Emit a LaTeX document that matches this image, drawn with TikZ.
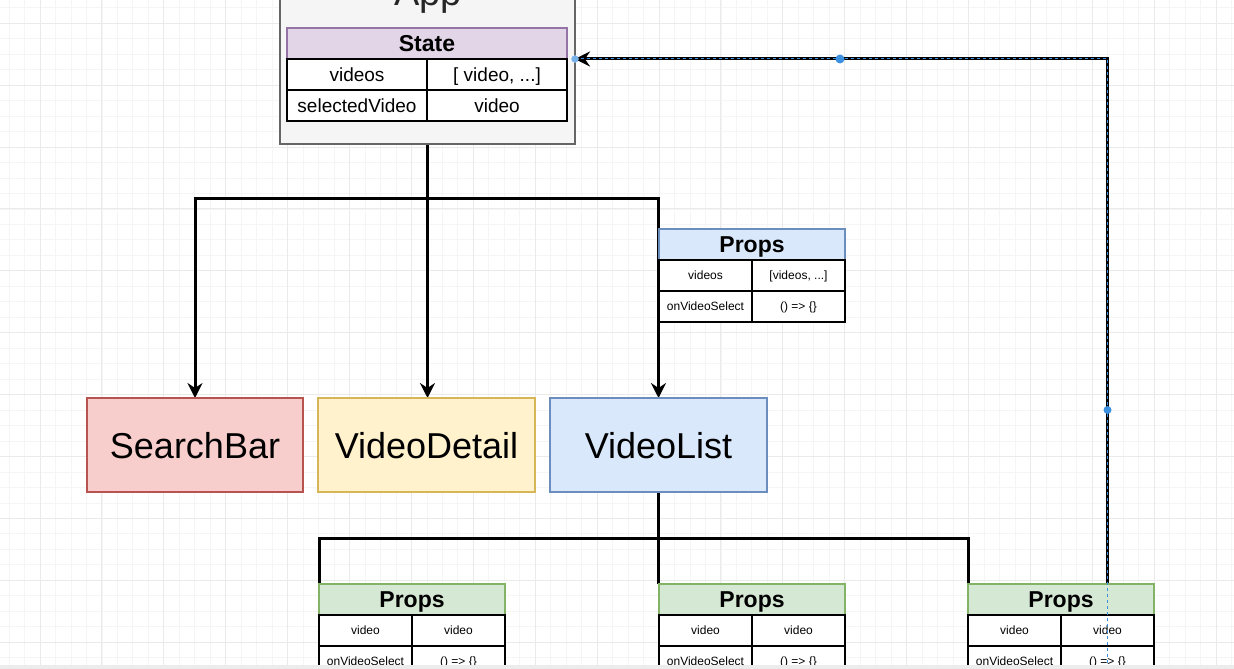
\documentclass[tikz,border=0pt]{standalone}
\usepackage{fontspec}
\setmainfont{Liberation Sans}
\usetikzlibrary{arrows.meta}
\pgfdeclarelayer{bglayer}
\pgfdeclarelayer{gridlayer}
\pgfdeclarelayer{edgelayer}
\pgfdeclarelayer{toplayer}
\pgfsetlayers{bglayer,gridlayer,edgelayer,main,toplayer}
\definecolor{gminor}{HTML}{F5F5F5}
\definecolor{gmajor}{HTML}{EAEAEA}
\definecolor{appfill}{HTML}{F5F5F5}
\definecolor{appdraw}{HTML}{666666}
\definecolor{purfill}{HTML}{E1D5E7}
\definecolor{purdraw}{HTML}{9673A6}
\definecolor{bluefill}{HTML}{DAE8FC}
\definecolor{bluedraw}{HTML}{6C8EBF}
\definecolor{redfill}{HTML}{F8CECC}
\definecolor{reddraw}{HTML}{B85450}
\definecolor{yelfill}{HTML}{FFF2CC}
\definecolor{yeldraw}{HTML}{D6B656}
\definecolor{grnfill}{HTML}{D5E8D4}
\definecolor{grndraw}{HTML}{82B366}
\definecolor{selblue}{HTML}{3D8FE0}
\definecolor{strip}{HTML}{ECECEC}
\begin{document}
\begin{tikzpicture}[x=1pt,y=-1pt,
  gridminorline/.style={draw=gminor,line width=0.8pt},
  gridmajorline/.style={draw=gmajor,line width=1pt},
  box/.style={anchor=north west,inner sep=0pt,outer sep=0pt,line width=2.6pt},
  bigbox/.style={box,minimum width=216pt,minimum height=94pt,font=\fontsize{36}{40}\selectfont,text height=26pt,text depth=0pt},
  hdr/.style={box,minimum height=31pt,font=\bfseries\fontsize{23}{26}\selectfont,text height=17pt,text depth=1pt},
  cellbig/.style={box,draw=black,fill=white,minimum width=140pt,minimum height=31pt,font=\fontsize{19}{22}\selectfont,text height=16pt,text depth=2pt},
  cellsmall/.style={box,draw=black,fill=white,minimum width=93pt,minimum height=31pt,font=\fontsize{12}{14}\selectfont,text height=10pt,text depth=2pt},
  conn/.style={draw=black,line width=3pt},
  tip/.style={-{Stealth[length=15pt,width=15pt,inset=5pt]}},
  sel/.style={draw=selblue,line width=1pt,dash pattern=on 3pt off 3pt},
  handle/.style={circle,fill=selblue,inner sep=0pt,minimum size=8pt}
]
\useasboundingbox (0,0) rectangle (1234,669);
\begin{pgfonlayer}{bglayer}
\fill[white] (0,0) rectangle (1234,669);
\end{pgfonlayer}
% grid
\begin{pgfonlayer}{gridlayer}
\foreach \i in {0,...,80} {
  \pgfmathsetmacro\xx{-6.4+15.475*\i}
  \draw[gridminorline] (\xx,0) -- (\xx,669);
}
\foreach \i in {0,...,44} {
  \pgfmathsetmacro\yy{-7.75+15.475*\i}
  \draw[gridminorline] (0,\yy) -- (1234,\yy);
}
\foreach \i in {0,...,20} {
  \pgfmathsetmacro\xx{40+61.9*\i}
  \draw[gridmajorline] (\xx,0) -- (\xx,669);
}
\foreach \i in {0,...,10} {
  \pgfmathsetmacro\yy{23.2+61.9*\i}
  \draw[gridmajorline] (0,\yy) -- (1234,\yy);
}
\end{pgfonlayer}

% App container
\node[box,draw=appdraw,fill=appfill,minimum width=295pt,minimum height=164pt] (app) at (280,-20) {};
\node[anchor=base,font=\fontsize{38}{40}\selectfont,text=black!85] (apptitle) at (428,6) {App};
\node[hdr,draw=purdraw,fill=purfill,minimum width=280pt] (state) at (287,28) {State};
\node[cellbig] (s11) at (287,59) {videos};
\node[cellbig] (s12) at (427,59) {[ video, ...]};
\node[cellbig] (s21) at (287,90) {selectedVideo};
\node[cellbig] (s22) at (427,90) {video};

% props of VideoList
\node[hdr,draw=bluedraw,fill=bluefill,minimum width=186pt] (pv) at (659,229) {Props};
\node[cellsmall] (pv11) at (659,260) {videos};
\node[cellsmall] (pv12) at (752,260) {[videos, ...]};
\node[cellsmall] (pv21) at (659,291) {onVideoSelect};
\node[cellsmall] (pv22) at (752,291) {() => \{\}};

% main components
\node[bigbox,draw=reddraw,fill=redfill] (sb) at (87,398) {SearchBar};
\node[bigbox,draw=yeldraw,fill=yelfill,minimum width=217pt] (vd) at (318,398) {VideoDetail};
\node[bigbox,draw=bluedraw,fill=bluefill,minimum width=217pt] (vl) at (550,398) {VideoList};

% VideoItem props
\node[hdr,draw=grndraw,fill=grnfill,minimum width=186pt] (pA) at (319,584) {Props};
\node[cellsmall] (pA11) at (319,615) {video};
\node[cellsmall] (pA12) at (412,615) {video};
\node[cellsmall] (pA21) at (319,646) {onVideoSelect};
\node[cellsmall] (pA22) at (412,646) {() => \{\}};

\node[hdr,draw=grndraw,fill=grnfill,minimum width=186pt] (pB) at (659,584) {Props};
\node[cellsmall] (pB11) at (659,615) {video};
\node[cellsmall] (pB12) at (752,615) {video};
\node[cellsmall] (pB21) at (659,646) {onVideoSelect};
\node[cellsmall] (pB22) at (752,646) {() => \{\}};

\node[hdr,draw=grndraw,fill=grnfill,minimum width=186pt] (pC) at (968,584) {Props};
\node[cellsmall] (pC11) at (968,615) {video};
\node[cellsmall] (pC12) at (1061,615) {video};
\node[cellsmall] (pC21) at (968,646) {onVideoSelect};
\node[cellsmall] (pC22) at (1061,646) {() => \{\}};

% connectors
\coordinate (j1) at (427.5,198);
\coordinate (j2) at (658.5,538);
\coordinate (bend) at (pC12.north |- s12.north);
\coordinate (selend) at (1107.5,669);
\begin{pgfonlayer}{edgelayer}
\draw[conn] (app.south) -- (j1);
\draw[conn,tip] (j1) -| (sb.north);
\draw[conn,tip] (j1) -| (vl.north);
\draw[conn,tip] (j1) -- (j1 |- vd.north);
\draw[conn] (vl.south) -- (vl.south |- pB.north);
\draw[conn] (j2) -| (pA.north west);
\draw[conn] (j2) -| (pC.north west);
\draw[conn,tip] (pC12.north |- pC.north) -- (bend) -- (app.east |- s12.north);
\end{pgfonlayer}

\begin{pgfonlayer}{toplayer}
\draw[sel] (selend) -- (bend) -- (app.east |- s12.north);
\node[handle,minimum size=7pt,draw=selblue!60,fill=selblue!70] (h1) at (app.east |- s12.north) {};
\node[handle,minimum size=9pt] (h2) at (840,59) {};
\node[handle,minimum size=8pt] (h3) at (1107.5,410) {};
\fill[strip] (0,665) rectangle (1234,669);
\end{pgfonlayer}
\end{tikzpicture}
\end{document}
